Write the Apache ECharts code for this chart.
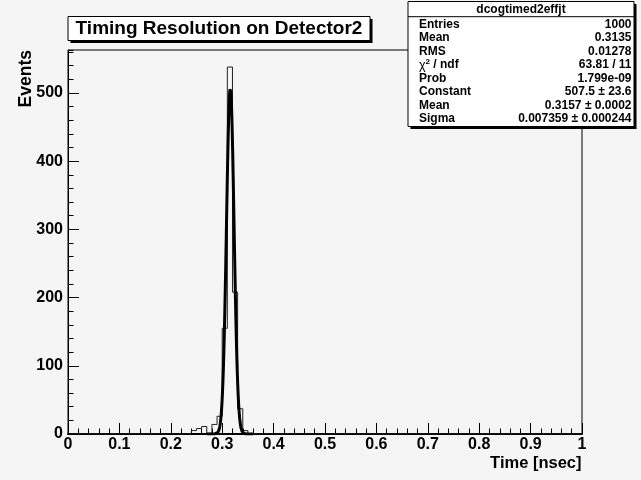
<!DOCTYPE html>
<html>
<head>
<meta charset="utf-8">
<script src="https://cdn.jsdelivr.net/npm/echarts@6/dist/echarts.min.js"></script>
<style>
  html, body { margin: 0; padding: 0; background: #f5f5f5; }
  #chart { width: 641px; height: 480px; }
</style>
</head>
<body>
<div id="chart"></div>
<script>
// Histogram of the timing difference: 100 bins of 0.01 ns over [0, 1];
// only the occupied bins are listed, every other bin is empty.
const binStart = 0.23;
const binWidth = 0.01;
const binCounts = [1, 5, 8, 11, 1, 14, 26, 155, 538, 208, 37, 5];

// Gaussian fit result (parameters as reported in the statistics box)
const fitConstant = 507.5;
const fitMean = 0.3157;
const fitSigma = 0.007359;
const fitRange = [0.27, 0.36];
const fitSamples = 100;

// Statistics box contents
const statsTitle = 'dcogtimed2effjt';
const statsLabels = ['Entries', 'Mean', 'RMS', '{s|χ}{sup|2}{n| / ndf}', 'Prob', 'Constant', 'Mean', 'Sigma'];
const statsValues = ['1000', '0.3135', '0.01278', '63.81 / 11', '1.799e-09', '507.5 ± 23.6', '0.3157 ± 0.0002', '0.007359 ± 0.000244'];

const chartTitle = 'Timing Resolution on Detector2';
const xTitle = 'Time [nsec]';
const yTitle = 'Events';

const FONT = '"Liberation Sans", Arial, Helvetica, sans-serif';

// Outline of the histogram (step drawn at each bin edge)
const histPoints = [[0, 0]];
binCounts.forEach((c, i) => histPoints.push([+(binStart + i * binWidth).toFixed(4), c]));
histPoints.push([+(binStart + binCounts.length * binWidth).toFixed(4), 0]);
histPoints.push([1, 0]);

// Fitted gaussian sampled over the fit range
const fitPoints = [];
for (let k = 0; k <= fitSamples; k++) {
  const x = fitRange[0] + (fitRange[1] - fitRange[0]) * k / fitSamples;
  const z = (x - fitMean) / fitSigma;
  fitPoints.push([x, fitConstant * Math.exp(-0.5 * z * z)]);
}

const yMax = 563;

const chart = echarts.init(document.getElementById('chart'), null, { renderer: 'canvas' });

// Statistics box graphic elements
const statsX = 408, statsY = 1.5, statsW = 226, statsH = 125;
const rowTop = 24.6, rowStep = 13.5;
const statsFont = 'bold 12px ' + FONT;
const statsElems = [
  { type: 'rect', shape: { x: statsX + 2.5, y: statsY + 2.5, width: statsW, height: statsH }, style: { fill: '#000' }, z: 100 },
  { type: 'rect', shape: { x: statsX, y: statsY, width: statsW, height: statsH }, style: { fill: '#ffffff', stroke: '#000', lineWidth: 1 }, z: 101 },
  { type: 'line', shape: { x1: statsX, y1: 16.7, x2: statsX + statsW, y2: 16.7 }, style: { stroke: '#000', lineWidth: 1 }, z: 102 },
  { type: 'text', x: statsX + statsW / 2, y: 9.3, z: 103,
    style: { text: statsTitle, font: statsFont, fill: '#000', textAlign: 'center', textVerticalAlign: 'middle' } }
];
statsLabels.forEach((lab, i) => {
  statsElems.push({ type: 'text', x: 419, y: rowTop + i * rowStep, z: 103,
    style: { text: lab, font: statsFont, fill: '#000', textAlign: 'left', textVerticalAlign: 'middle',
      rich: {
        s: { fontFamily: FONT, fontSize: 12.5, fontWeight: 'normal', fill: '#000' },
        sup: { fontFamily: FONT, fontSize: 8, fontWeight: 'bold', fill: '#000', padding: [0, 0, 6, 0] },
        n: { fontFamily: FONT, fontSize: 12, fontWeight: 'bold', fill: '#000' }
      } } });
  statsElems.push({ type: 'text', x: 631.5, y: rowTop + i * rowStep, z: 103,
    style: { text: statsValues[i], font: statsFont, fill: '#000', textAlign: 'right', textVerticalAlign: 'middle' } });
});

const option = {
  animation: false,
  backgroundColor: '#f5f5f5',
  grid: { left: 68, right: 59, top: 50, bottom: 46, show: true, borderColor: '#000', borderWidth: 1, backgroundColor: 'transparent' },
  xAxis: {
    type: 'value', min: 0, max: 1, interval: 0.1,
    axisLine: { show: true, lineStyle: { color: '#000', width: 2 } },
    axisTick: { show: true, inside: true, length: 11, lineStyle: { color: '#000', width: 1 } },
    minorTick: { show: true, splitNumber: 5, length: 5.5, lineStyle: { color: '#000', width: 1 } },
    splitLine: { show: false },
    axisLabel: { color: '#000', fontFamily: FONT, fontWeight: 'bold', fontSize: 16, margin: 3,
      formatter: v => (Math.abs(v) < 1e-9 ? '0' : String(+v.toFixed(1))) }
  },
  yAxis: [
    {
      type: 'value', min: 0, max: yMax, interval: 100,
      axisLine: { show: true, lineStyle: { color: '#000', width: 1 } },
      axisTick: { show: true, inside: true, length: 11, lineStyle: { color: '#000', width: 1 } },
      splitLine: { show: false },
      axisLabel: { color: '#000', fontFamily: FONT, fontWeight: 'bold', fontSize: 16, margin: 5, showMaxLabel: false,
        formatter: v => (v % 100 === 0 ? String(v) : '') }
    },
    {
      // minor ticks every 20 events
      type: 'value', min: 0, max: yMax, interval: 20, position: 'left', offset: 0,
      axisLine: { show: false },
      axisTick: { show: true, inside: true, length: 5.5, lineStyle: { color: '#000', width: 1 } },
      splitLine: { show: false },
      axisLabel: { show: false }
    }
  ],
  series: [
    {
      name: 'histogram', type: 'line', step: 'end', data: histPoints, yAxisIndex: 0,
      symbol: 'none', lineStyle: { color: '#222', width: 1 }, z: 3
    },
    {
      name: 'fit', type: 'line', data: fitPoints, yAxisIndex: 0,
      symbol: 'none', smooth: false, lineStyle: { color: '#000', width: 3 }, z: 4
    }
  ],
  graphic: [
    // title box with shadow
    { type: 'rect', shape: { x: 70.5, y: 19, width: 302, height: 24 }, style: { fill: '#000' }, z: 100 },
    { type: 'rect', shape: { x: 68, y: 16.5, width: 302, height: 24 }, style: { fill: '#ffffff', stroke: '#000', lineWidth: 1 }, z: 101 },
    { type: 'text', x: 219, y: 29, z: 102,
      style: { text: chartTitle, font: 'bold 19px ' + FONT, fill: '#000', textAlign: 'center', textVerticalAlign: 'middle' } },
    // axis titles
    { type: 'text', x: 581.5, y: 463, z: 102,
      style: { text: xTitle, font: 'bold 16.5px ' + FONT, fill: '#000', textAlign: 'right', textVerticalAlign: 'middle' } },
    { type: 'text', x: 26, y: 50, rotation: Math.PI / 2, z: 102,
      style: { text: yTitle, font: 'bold 17.5px ' + FONT, fill: '#000', textAlign: 'right', textVerticalAlign: 'middle' } }
  ].concat(statsElems)
};

chart.setOption(option);
</script>
</body>
</html>
